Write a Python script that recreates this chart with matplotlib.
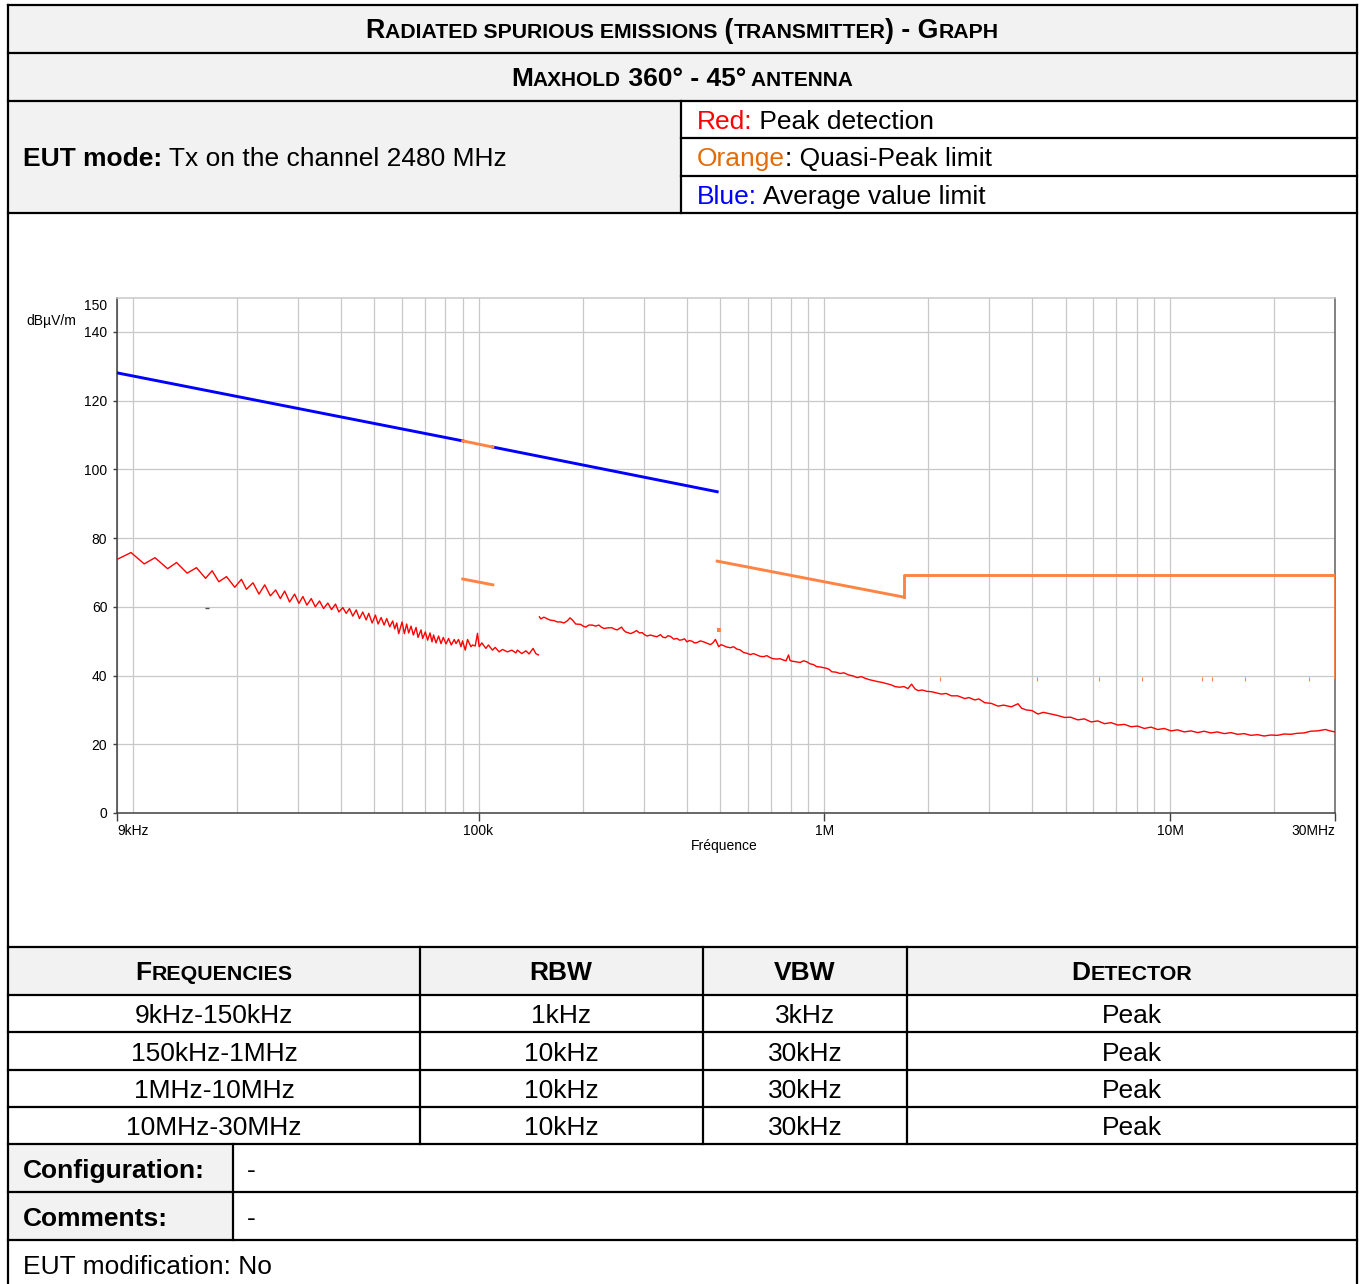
import matplotlib.pyplot as plt
import matplotlib.transforms as mtransforms
from matplotlib.patches import Rectangle

plt.rcParams['font.family'] = ['Liberation Sans', 'DejaVu Sans']

# ---- chart data (frequency in kHz, level in dBuV/m) ----
# average limit (blue), in two parts around the 90-110 kHz window
blue_khz_a = [9, 90]
blue_db_a = [128.1, 108.3]
blue_khz_b = [110, 490]
blue_db_b = [106.5, 93.5]

# quasi-peak limits (orange)
qp_khz_a = [90, 110]
qp_db_a = [108.3, 106.5]
qp_khz_b = [90, 110]
qp_db_b = [68.1, 66.4]
qp_khz_c = [490, 1705]
qp_db_c = [73.3, 62.8]
qp_khz_d = [1705, 1705, 30000, 30000]
qp_db_d = [62.8, 69.2, 69.2, 39.6]

# peak detection (red), 9 kHz - 150 kHz sweep
red1_khz = [9.00, 9.88, 10.79, 11.59, 12.61, 13.38, 14.36, 15.28, 16.23, 16.96,
            17.73, 18.66, 19.72, 20.61, 21.31, 22.26, 23.17, 24.07, 24.99, 25.89,
            26.71, 27.49, 28.41, 29.37, 30.23, 31.04, 31.88, 32.82, 33.71, 34.68,
            35.62, 36.65, 37.56, 38.57, 39.43, 40.49, 41.42, 42.33, 43.27, 44.26,
            45.24, 46.25, 47.30, 48.13, 49.23, 50.32, 51.23, 52.26, 53.31, 54.24,
            55.34, 56.45, 57.20, 58.00, 58.74, 60.09, 61.01, 61.95, 62.78, 63.79,
            64.77, 65.95, 66.83, 68.17, 68.90, 70.15, 71.23, 72.38, 73.34, 74.13,
            75.32, 76.63, 77.87, 79.06, 80.50, 81.90, 83.38, 85.06, 86.03, 87.53,
            88.93, 89.88, 91.51, 92.92, 95.04, 96.06, 97.80, 99.30, 100.4, 102.2,
            105.0, 106.8, 109.7, 111.7, 114.7, 117.3, 121.2, 124.8, 128.2, 129.5,
            133.4, 137.0, 140.0, 143.8, 146.4, 149.0]
red1_db = [73.8, 75.8, 72.5, 74.3, 71.1, 72.9, 69.8, 71.4, 68.3, 70.5,
           67.3, 68.8, 65.7, 68.0, 65.1, 67.0, 63.7, 66.4, 63.2, 64.9,
           62.4, 64.6, 61.4, 63.7, 61.0, 63.0, 60.5, 62.4, 60.0, 61.7,
           59.5, 61.1, 59.2, 60.8, 58.5, 59.8, 58.1, 59.5, 57.3, 59.1,
           56.6, 58.5, 56.2, 58.1, 55.3, 57.6, 55.0, 56.9, 54.7, 56.6,
           54.2, 55.9, 53.6, 55.3, 52.2, 55.6, 52.2, 55.0, 52.4, 54.4,
           51.8, 54.0, 51.1, 53.3, 50.8, 52.7, 50.3, 52.4, 49.8, 51.8,
           49.5, 51.5, 49.3, 51.1, 49.2, 50.8, 48.9, 50.5, 49.3, 50.5,
           48.4, 50.1, 47.4, 50.5, 48.4, 48.9, 48.6, 52.3, 48.4, 49.5,
           47.9, 48.9, 47.4, 48.2, 46.9, 47.6, 46.9, 47.4, 46.6, 47.4,
           46.4, 47.2, 46.3, 47.9, 46.4, 46.0]

# peak detection (red), 150 kHz - 30 MHz sweep
red2_khz = [150, 151.3, 154.5, 158.1, 161.5, 165.3, 169, 172.9, 176.5, 180.5,
            183.9, 187.5, 191.0, 197.4, 200.5, 204.1, 208.5, 213.2, 218, 222.9,
            226.5, 230.5, 237, 243.5, 247.5, 251.8, 259.2, 262.5, 266.2, 270.5,
            275.2, 281, 286.4, 292, 297.3, 302, 307.3, 314, 321.3, 328,
            335.9, 341, 347.3, 353, 359.0, 367, 375.1, 381, 387.8, 394,
            400.9, 407, 414.4, 421, 428.5, 438, 448.0, 458, 468.4, 476,
            484.2, 489, 494.9, 503, 511.6, 522, 534.9, 546, 558.9, 570,
            584.4, 597, 611.0, 624, 638.4, 652, 667.4, 682, 697.8, 712,
            729.1, 745, 762.3, 775, 788.0, 796, 805.5, 827, 851.8, 870,
            889.9, 910, 930.5, 950, 972.8, 994, 1016, 1033, 1051, 1080,
            1110, 1140, 1174, 1210, 1245, 1280, 1312, 1350, 1390, 1433,
            1470, 1520, 1560, 1601, 1650, 1700, 1745, 1788, 1830, 1869,
            1920, 1980, 2042, 2100, 2182, 2250, 2332, 2430, 2549, 2620,
            2724, 2800, 2912, 3040, 3181, 3300, 3475, 3633, 3720, 3839,
            3990, 4149, 4300, 4532, 4720, 4954, 5150, 5412, 5650, 5912,
            6180, 6463, 6750, 7060, 7380, 7713, 8050, 8431, 8800, 9211,
            9620, 10061, 10500, 10998, 11500, 12014, 12550, 13124, 13700, 14346,
            15000, 15672, 16400, 17120, 17900, 18715, 19550, 20444, 21400, 22333,
            23350, 24412, 25500, 26669, 28181, 29000, 30000]
red2_db = [57.1, 56.5, 57.0, 56.5, 56.1, 56.0, 55.6, 55.6, 55.3, 55.9,
           56.8, 56.0, 55.0, 54.9, 54.4, 54.1, 54.7, 54.7, 54.4, 54.7,
           54.1, 53.7, 53.9, 53.9, 53.5, 53.3, 54.1, 53.3, 52.7, 52.5,
           52.2, 52.6, 53.1, 52.4, 52.5, 51.9, 51.5, 51.8, 51.5, 51.3,
           51.9, 51.2, 51.0, 51.6, 51.4, 50.6, 50.8, 50.3, 50.4, 50.7,
           49.8, 50.2, 50.0, 49.5, 49.6, 50.1, 49.8, 49.4, 49.0, 49.5,
           50.5, 49.6, 48.4, 49.0, 48.7, 48.3, 48.1, 48.4, 47.7, 47.5,
           46.7, 46.5, 46.1, 46.4, 46.0, 45.6, 45.5, 45.8, 45.2, 44.9,
           44.8, 44.9, 44.5, 44.3, 46.0, 44.4, 44.2, 44.0, 43.8, 44.3,
           44.0, 43.4, 43.2, 42.6, 42.5, 42.3, 42.1, 41.8, 41.1, 41.0,
           40.6, 40.8, 40.2, 39.9, 39.4, 39.7, 39.2, 38.8, 38.5, 38.2,
           38.0, 37.6, 37.3, 36.8, 36.6, 36.8, 36.2, 37.5, 36.1, 35.6,
           35.8, 35.4, 35.3, 35.0, 34.6, 34.8, 34.1, 34.1, 33.3, 33.6,
           32.9, 33.2, 32.1, 31.9, 31.1, 31.4, 30.9, 31.8, 30.5, 30.0,
           29.8, 28.8, 29.3, 28.8, 28.4, 27.8, 27.9, 27.1, 27.4, 26.5,
           26.8, 26.0, 26.3, 25.6, 25.8, 25.1, 25.3, 24.6, 25.0, 24.3,
           24.6, 23.9, 24.2, 23.6, 23.9, 23.4, 23.8, 23.3, 23.6, 23.1,
           23.4, 22.9, 23.1, 22.6, 22.8, 22.4, 22.7, 22.6, 23.0, 22.9,
           23.2, 23.3, 23.8, 23.9, 24.3, 23.9, 23.6]

# stray marks on the trace display
spot_khz = [495]
spot_db = [53.2]
speck_khz = [2164, 4135, 6223, 8282, 12338, 13185, 16480, 25281]
speck_db = [39.0, 39.0, 39.0, 39.0, 39.0, 39.0, 39.0, 39.0]
dash_khz = [16.4]
dash_db = [59.6]

x_ticks = [9, 100, 1000, 10000, 30000]
x_labels = ['9kHz', '100k', '1M', '10M', '30MHz']
x_grid = [10, 20, 30, 40, 50, 60, 70, 80, 90, 200, 300, 400, 500, 600, 700, 800, 900,
          2000, 3000, 4000, 5000, 6000, 7000, 8000, 9000, 20000]
y_ticks = [0, 20, 40, 60, 80, 100, 120, 140]

# ---- table text ----
title_1 = 'Radiated spurious emissions (transmitter) - Graph'
title_2 = 'Maxhold 360° - 45° antenna'
head_cols = ['Frequencies', 'RBW', 'VBW', 'Detector']
rows = [['9kHz-150kHz', '1kHz', '3kHz', 'Peak'],
        ['150kHz-1MHz', '10kHz', '30kHz', 'Peak'],
        ['1MHz-10MHz', '10kHz', '30kHz', 'Peak'],
        ['10MHz-30MHz', '10kHz', '30kHz', 'Peak']]

RED = '#ff0000'
ORANGE = '#ff8444'
BLUE = '#0000ff'
GRAY = '#f2f2f2'

fig = plt.figure(figsize=(13.62, 12.84), dpi=100)
bg = fig.add_axes([0, 0, 1, 1])
bg.set_xlim(0, 1362)
bg.set_ylim(1284, 0)
bg.axis('off')

# cell fills
for x0, y0, x1, y1 in [(8, 5, 1357, 101), (8, 101, 681, 213), (8, 947, 1357, 995),
                       (8, 1144, 233, 1240)]:
    bg.add_patch(Rectangle((x0, y0), x1 - x0, y1 - y0, facecolor=GRAY, edgecolor='none'))

# borders
lw = 1.6
for y in [5, 53, 101, 213, 947, 995, 1032, 1070, 1107, 1144, 1192, 1240]:
    bg.plot([8, 1357], [y, y], color='black', lw=lw, solid_capstyle='projecting')
for y in [138, 176]:
    bg.plot([681, 1357], [y, y], color='black', lw=lw)
bg.plot([8, 8], [5, 1284], color='black', lw=lw)
bg.plot([1357, 1357], [5, 1284], color='black', lw=lw)
bg.plot([681, 681], [101, 213], color='black', lw=lw)
for x in [420, 703, 907]:
    bg.plot([x, x], [947, 1144], color='black', lw=lw)
bg.plot([233, 233], [1144, 1240], color='black', lw=lw)

renderer = fig.canvas.get_renderer()


def put_runs(x, y, parts, ha='left'):
    # parts: list of (text, kwargs); placed one after another on one baseline
    items = [bg.text(0, y, s, va='baseline', ha='left', **kw) for s, kw in parts]
    widths = [t.get_window_extent(renderer).width for t in items]
    x0 = x - sum(widths) / 2 if ha == 'center' else x
    for t, w in zip(items, widths):
        t.set_x(x0)
        x0 += w


def small_caps(text, big, small, **kw):
    parts = []
    pending = ''
    for ch in text:
        if ch == ' ':
            pending += ch
            continue
        size = small if ch.islower() else big
        s = pending + ch.upper()
        pending = ''
        if parts and parts[-1][1]['fontsize'] == size:
            parts[-1] = (parts[-1][0] + s, parts[-1][1])
        else:
            parts.append((s, dict(fontsize=size, **kw)))
    return parts


FS = 19
put_runs(682, 38, small_caps(title_1, 19.3, 15.3, fontweight='bold'), ha='center')
put_runs(682, 86, small_caps(title_2, 19.0, 15.0, fontweight='bold'), ha='center')

put_runs(23, 166, [('EUT mode:', dict(fontsize=FS, fontweight='bold')),
                   (' Tx on the channel 2480 MHz', dict(fontsize=FS))])
put_runs(697, 129, [('Red:', dict(fontsize=FS, color=RED)),
                    (' Peak detection', dict(fontsize=FS))])
put_runs(697, 166, [('Orange', dict(fontsize=FS, color='#e36c09')),
                    (': Quasi-Peak limit', dict(fontsize=FS))])
put_runs(697, 204, [('Blue:', dict(fontsize=FS, color=BLUE)),
                    (' Average value limit', dict(fontsize=FS))])

col_centers = [214, 561, 805, 1132]
for cx, h in zip(col_centers, head_cols):
    put_runs(cx, 980, small_caps(h, FS, 15.4, fontweight='bold'), ha='center')
for ry, row in zip([1023, 1061, 1098, 1135], rows):
    for cx, s in zip(col_centers, row):
        bg.text(cx, ry, s, fontsize=FS, ha='center', va='baseline')

bg.text(23, 1178, 'Configuration:', fontsize=FS, fontweight='bold', va='baseline')
bg.text(247, 1178, '-', fontsize=FS, va='baseline')
bg.text(23, 1226, 'Comments:', fontsize=FS, fontweight='bold', va='baseline')
bg.text(247, 1226, '-', fontsize=FS, va='baseline')
bg.text(23, 1274, 'EUT modification: No', fontsize=FS, va='baseline')

# ---- chart ----
W, H = 1362, 1284
ax = fig.add_axes([117 / W, (H - 813) / H, (1335 - 117) / W, (813 - 297.6) / H])
ax.set_xscale('log')
ax.set_xlim(9, 30000)
ax.set_ylim(0, 150)

ax.plot(blue_khz_a, blue_db_a, color=BLUE, lw=2.1, zorder=3)
ax.plot(blue_khz_b, blue_db_b, color=BLUE, lw=2.1, zorder=3)
for fx, fy in [(qp_khz_a, qp_db_a), (qp_khz_b, qp_db_b), (qp_khz_c, qp_db_c), (qp_khz_d, qp_db_d)]:
    ax.plot(fx, fy, color=ORANGE, lw=2.1, zorder=4)
ax.plot(red1_khz, red1_db, color=RED, lw=1.0, zorder=5)
ax.plot(red2_khz, red2_db, color=RED, lw=1.0, zorder=5)
ax.plot(spot_khz, spot_db, 's', color=ORANGE, ms=2.5, mew=0, zorder=5)
ax.plot(speck_khz, speck_db, '|', color=ORANGE, ms=2.5, mew=0.8, zorder=5)
ax.plot(dash_khz, dash_db, '_', color='#505050', ms=3, mew=1.0, zorder=5)

ax.set_xticks(x_ticks)
ax.set_xticklabels(x_labels)
ax.set_xticks(x_grid, minor=True)
ax.set_xticklabels([], minor=True)
ax.set_yticks(y_ticks)
ax.set_yticklabels([str(v) for v in y_ticks])
labels = ax.get_xticklabels()
labels[0].set_ha('left')
labels[-1].set_ha('right')

ax.tick_params(axis='x', which='major', length=6, width=1, color='#404040', pad=2, labelsize=10)
ax.tick_params(axis='x', which='minor', length=0)
ax.tick_params(axis='y', length=3, width=1, color='#404040', pad=4, labelsize=10)
ax.grid(True, which='both', color='#c8c8c8', lw=0.9)
ax.set_axisbelow(True)

for side, col in [('left', '#404040'), ('bottom', '#404040'), ('right', '#606060'), ('top', '#c8c8c8')]:
    ax.spines[side].set_color(col)
    ax.spines[side].set_linewidth(1.1)

ax.text(-0.008, 147.6, '150', transform=mtransforms.blended_transform_factory(ax.transAxes, ax.transData),
        ha='right', va='center', fontsize=10)
bg.text(26, 321, 'dBµV/m', fontsize=10, ha='left', va='center')
bg.text(724, 846, 'Fréquence', fontsize=10, ha='center', va='center')

fig.savefig('out.png', dpi=100, facecolor='white')
